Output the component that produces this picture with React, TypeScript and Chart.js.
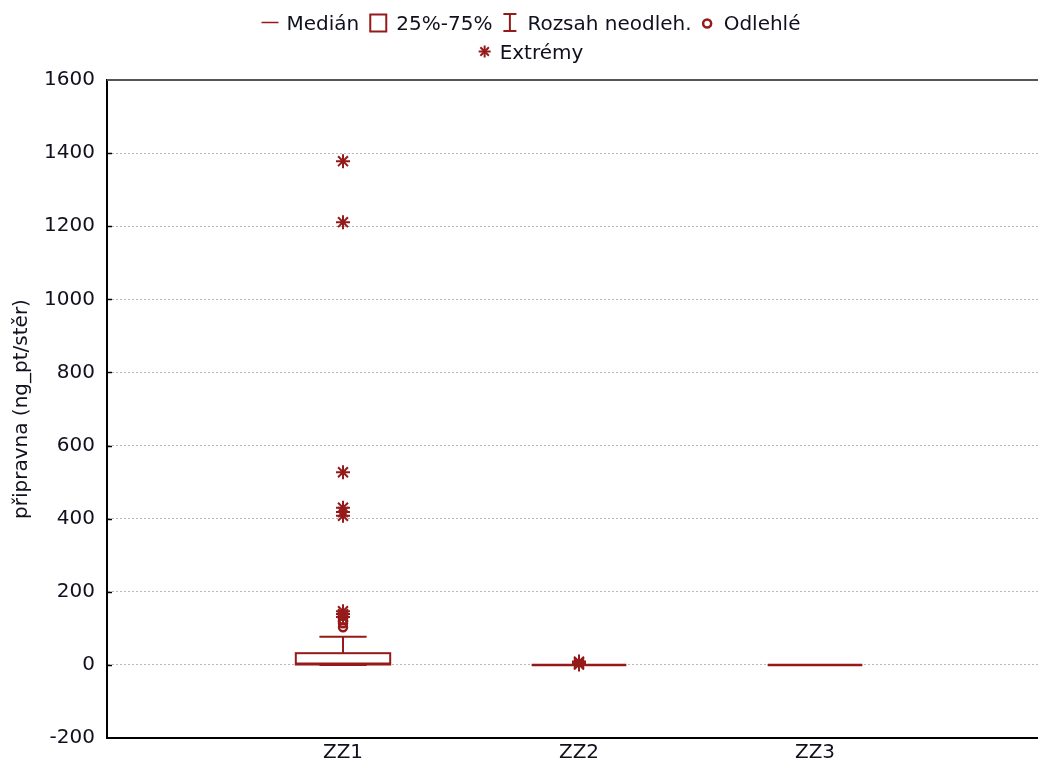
import React, { useEffect, useRef } from "react";
import { Chart, registerables } from "chart.js";

Chart.register(...registerables);

// ---------- data ----------
const categories = ["ZZ1", "ZZ2", "ZZ3"];
const whiskerMin = [0, 0, 0];
const q1 = [1, 0, 0];
const median = [3, 0, 0];
const q3 = [32, 0, 0];
const whiskerMax = [77, 0, 0];
const outliers: number[][] = [[103, 114, 122], [], []];
const extremes: number[][] = [[131, 139, 147, 408, 418, 430, 527, 1211, 1378], [1, 5, 9], []];

const yMin = -200;
const yMax = 1600;
const yStep = 200;

const yTitle = "připravna (ng_pt/stěr)";
const legendLabels = ["Medián", "25%-75%", "Rozsah neodleh.", "Odlehlé", "Extrémy"];
const legendSymbols = ["line", "box", "range", "circle", "star"];
const legendRows = [[0, 1, 2, 3], [4]];

// ---------- styles ----------
const RED = "#951a1a";
const TEXT = "#10101e";
const FONT = '"DejaVu Sans", sans-serif';
const BOX_HALF = 0.2;
const CAP_HALF = 0.1;

const symWidth: Record<string, number> = { line: 17, box: 18, range: 15, circle: 11, star: 12 };
const symGap: Record<string, number> = { line: 8, box: 9, range: 10, circle: 11, star: 9 };
const ITEM_GAP = 10;
const LEGEND_CX = 531;
const ROW_BASE = [30, 59];

function line(ctx: CanvasRenderingContext2D, x1: number, y1: number, x2: number, y2: number) {
  ctx.beginPath();
  ctx.moveTo(x1, y1);
  ctx.lineTo(x2, y2);
  ctx.stroke();
}

const boxPlugin = {
  id: "boxes",
  beforeDatasetsDraw(chart: any) {
    const { ctx, scales } = chart;
    const x = scales.x;
    const y = scales.y;
    ctx.save();
    ctx.strokeStyle = RED;
    categories.forEach((_, i) => {
      const cx = x.getPixelForValue(i + 1);
      const hw = x.getPixelForValue(i + 1 + BOX_HALF) - cx;
      const cw = x.getPixelForValue(i + 1 + CAP_HALF) - cx;
      const yMinP = y.getPixelForValue(whiskerMin[i]);
      const yQ1 = y.getPixelForValue(q1[i]);
      const yMed = y.getPixelForValue(median[i]);
      const yQ3 = y.getPixelForValue(q3[i]);
      const yMaxP = y.getPixelForValue(whiskerMax[i]);
      ctx.lineWidth = 2;
      line(ctx, cx, yQ3, cx, yMaxP);
      line(ctx, cx - cw, yMaxP, cx + cw, yMaxP);
      line(ctx, cx, yQ1, cx, yMinP);
      line(ctx, cx - cw, yMinP, cx + cw, yMinP);
      ctx.strokeRect(cx - hw, yQ3, 2 * hw, yQ1 - yQ3);
      ctx.lineWidth = 2.5;
      line(ctx, cx - hw, yMed, cx + hw, yMed);
    });
    ctx.restore();
  },
};

const framePlugin = {
  id: "frame",
  afterDraw(chart: any) {
    const { ctx, chartArea, scales } = chart;
    ctx.save();
    ctx.strokeStyle = "#555";
    ctx.lineWidth = 2;
    line(ctx, chartArea.left, chartArea.top, chartArea.right + 10, chartArea.top);
    ctx.strokeStyle = "#000";
    ctx.lineWidth = 1.5;
    scales.y.ticks.forEach((t: any) => {
      if (t.value === yMin || t.value === yMax) return;
      const py = Math.round(scales.y.getPixelForValue(t.value)) + 0.5;
      line(ctx, chartArea.left, py, chartArea.left + 5, py);
    });
    ctx.restore();
  },
};

function drawSymbol(ctx: CanvasRenderingContext2D, kind: string, x: number, cy: number) {
  ctx.strokeStyle = RED;
  ctx.lineWidth = 2;
  const w = symWidth[kind];
  if (kind === "line") {
    ctx.lineWidth = 1.5;
    line(ctx, x, cy, x + w, cy);
  } else if (kind === "box") {
    ctx.strokeRect(x + 1, cy - 8, w - 2, 17);
  } else if (kind === "range") {
    const mx = x + w / 2;
    line(ctx, mx, cy - 8.5, mx, cy + 8.5);
    line(ctx, x + 1, cy - 8.5, x + w - 1, cy - 8.5);
    line(ctx, x + 1, cy + 8.5, x + w - 1, cy + 8.5);
  } else if (kind === "circle") {
    ctx.lineWidth = 2.5;
    ctx.beginPath();
    ctx.arc(x + w / 2, cy + 1, 4, 0, Math.PI * 2);
    ctx.stroke();
  } else if (kind === "star") {
    const mx = x + w / 2;
    const r = 6;
    const d = r * Math.SQRT1_2;
    line(ctx, mx - r, cy, mx + r, cy);
    line(ctx, mx, cy - r, mx, cy + r);
    line(ctx, mx - d, cy - d, mx + d, cy + d);
    line(ctx, mx - d, cy + d, mx + d, cy - d);
  }
}

const legendPlugin = {
  id: "customLegend",
  afterDraw(chart: any) {
    const { ctx } = chart;
    ctx.save();
    ctx.font = `20px ${FONT}`;
    ctx.fillStyle = TEXT;
    ctx.textBaseline = "alphabetic";
    ctx.textAlign = "left";
    legendRows.forEach((row, r) => {
      const widths = row.map((idx) => {
        const k = legendSymbols[idx];
        return symWidth[k] + symGap[k] + ctx.measureText(legendLabels[idx]).width;
      });
      const total = widths.reduce((a, b) => a + b, 0) + ITEM_GAP * (row.length - 1);
      let x = LEGEND_CX - total / 2;
      const base = ROW_BASE[r];
      row.forEach((idx, j) => {
        const k = legendSymbols[idx];
        drawSymbol(ctx, k, x, base - 7.5);
        ctx.fillText(legendLabels[idx], x + symWidth[k] + symGap[k], base);
        x += widths[j] + ITEM_GAP;
      });
    });
    ctx.restore();
  },
};

export default function App() {
  const canvasRef = useRef<HTMLCanvasElement | null>(null);

  useEffect(() => {
    const canvas = canvasRef.current;
    if (!canvas) return;
    const outlierData = outliers.flatMap((vals, i) => vals.map((v) => ({ x: i + 1, y: v })));
    const extremeData = extremes.flatMap((vals, i) => vals.map((v) => ({ x: i + 1, y: v })));

    const chart = new Chart(canvas, {
      type: "scatter",
      data: {
        datasets: [
          {
            label: legendLabels[3],
            data: outlierData,
            pointStyle: "circle",
            pointRadius: 4,
            borderWidth: 2.5,
            borderColor: RED,
            backgroundColor: "rgba(0,0,0,0)",
          },
          {
            label: legendLabels[4],
            data: extremeData,
            pointStyle: "star",
            pointRadius: 7,
            borderWidth: 2,
            borderColor: RED,
            backgroundColor: RED,
          },
        ],
      },
      options: {
        animation: false,
        responsive: false,
        devicePixelRatio: 1,
        layout: { padding: { top: 80, left: 0, right: 0, bottom: 0 } },
        plugins: {
          legend: { display: false },
          tooltip: { enabled: false },
        },
        scales: {
          x: {
            type: "linear",
            min: 0,
            max: categories.length + 1,
            afterBuildTicks: (scale: any) => {
              scale.ticks = categories.map((_, i) => ({ value: i + 1 }));
            },
            afterFit: (scale: any) => {
              scale.height = 34;
            },
            grid: { display: false, drawTicks: false },
            border: { display: true, color: "#000", width: 2 },
            ticks: {
              autoSkip: false,
              maxRotation: 0,
              padding: 3,
              color: TEXT,
              font: { family: FONT, size: 20 },
              callback: (v: any) => categories[Number(v) - 1] ?? "",
            },
          },
          y: {
            type: "linear",
            min: yMin,
            max: yMax,
            afterFit: (scale: any) => {
              scale.width = 107;
            },
            grid: {
              drawTicks: false,
              lineWidth: 1,
              color: (c: any) =>
                c.tick && (c.tick.value === yMin || c.tick.value === yMax) ? "rgba(0,0,0,0)" : "#b8b8b8",
            },
            border: { display: true, color: "#000", width: 2, dash: [2, 2] },
            ticks: {
              stepSize: yStep,
              padding: 12,
              color: TEXT,
              font: { family: FONT, size: 20 },
              callback: (v: any) => String(v),
            },
            title: {
              display: true,
              text: yTitle,
              color: TEXT,
              padding: { top: 10, bottom: 0 },
              font: { family: FONT, size: 20 },
            },
          },
        },
      },
      plugins: [boxPlugin, framePlugin, legendPlugin],
    } as any);

    return () => chart.destroy();
  }, []);

  return (
    <div style={{ position: "absolute", left: 0, top: 0, width: 1038, height: 772, overflow: "hidden", background: "#fff" }}>
      <canvas ref={canvasRef} width={1060} height={772} style={{ width: "1060px", height: "772px", display: "block" }} />
    </div>
  );
}
